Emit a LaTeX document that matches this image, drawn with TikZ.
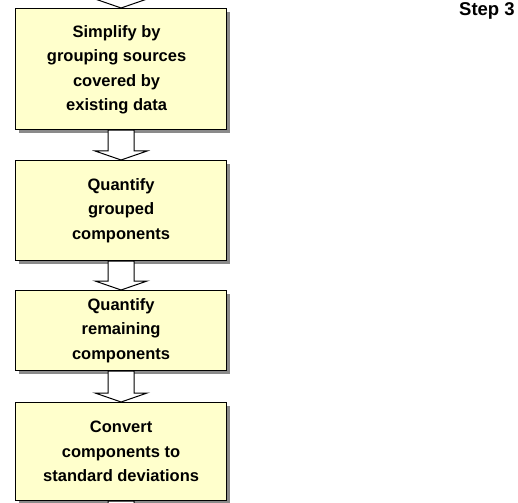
\documentclass[tikz,border=0pt]{standalone}
\usepackage{fontspec}
\setmainfont{Liberation Sans}
\usepackage{tikz}
\usetikzlibrary{calc}
\usetikzlibrary{shadows}
\usepackage{color}

\definecolor{boxyellow}{HTML}{FFFFCC}
\definecolor{shadowgray}{HTML}{8A8A8A}

\tikzset{
    stepbox/.style={anchor=north west,draw=black,line width=1.2pt,fill=boxyellow,
        minimum width=211pt,align=center,inner sep=0pt,
        font=\bfseries\fontsize{16.5}{24.5}\selectfont,
        drop shadow={shadow xshift=3.5pt,shadow yshift=-3.5pt,fill=shadowgray,opacity=1}},
    hollow/.style={draw=black,line width=1pt,fill=white,line join=miter}
}

\begin{document}
\begin{tikzpicture}[x=1pt,y=1pt]
    \useasboundingbox (0,0) rectangle (518,-502);

    \coordinate (top) at (120.5,40);
    \coordinate (bottom) at (120.5,-560);

    \node[stepbox,minimum height=121pt] (group) at (15,-8) {\begin{tabular}{@{}c@{}}Simplify by\\grouping sources\\covered by\\existing data\end{tabular}\hspace*{9pt}};
    \node[stepbox,minimum height=100pt] (quantgroup) at (15,-160) {Quantify\\grouped\\components};
    \node[stepbox,minimum height=80pt] (quantrest) at (15,-290) {Quantify\\remaining\\components};
    \node[stepbox,minimum height=98pt] (convert) at (15,-402) {Convert\\components to\\standard deviations};

    \node[anchor=base west,inner sep=0pt,font=\bfseries\fontsize{18.5}{20}\selectfont] (steplabel) at (459,-16) {Step 3};

    %hollow block arrows between the steps
    \foreach \a/\b in {top/group.north,group.south/quantgroup.north,quantgroup.south/quantrest.north,quantrest.south/convert.north,convert.south/bottom}
        \draw[hollow] ($(\a)+(-13,0)$) -- ($(\b)+(-13,9)$) -- ($(\b)+(-26,9)$) -- (\b)
            -- ($(\b)+(26,9)$) -- ($(\b)+(13,9)$) -- ($(\a)+(13,0)$) -- cycle;
\end{tikzpicture}
\end{document}
